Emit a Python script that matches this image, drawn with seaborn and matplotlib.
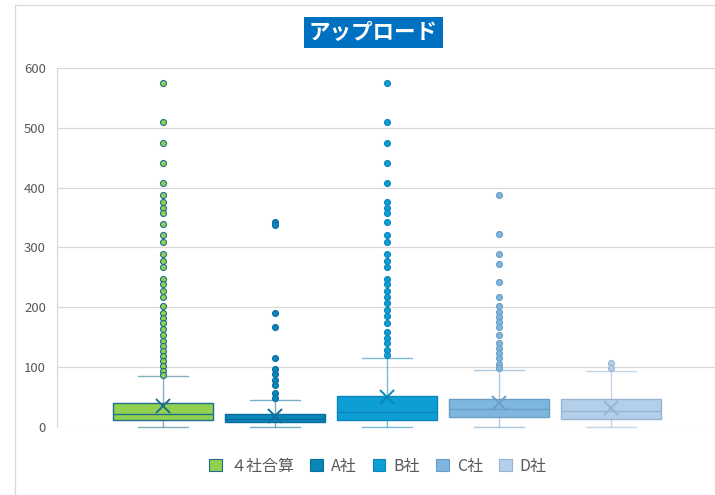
import matplotlib
matplotlib.use("Agg")
import matplotlib.pyplot as plt
from matplotlib.patches import Patch
from matplotlib.lines import Line2D
import seaborn as sns
import pandas as pd

sns.set_theme(style="white")
plt.rcParams['font.family'] = ['Noto Sans CJK JP', 'DejaVu Sans']

# ---------------- data ----------------
series = ["４社合算", "A社", "B社", "C社", "D社"]
whisker_low = [0, 0, 0, 0, 0]
q1 = [11, 8, 12, 16, 13]
median = [21, 14, 25, 29.5, 26]
q3 = [39.5, 22.5, 52.5, 47.5, 46]
whisker_high = [85, 45, 115, 95, 94]
means = [34.5, 18, 49.5, 39.5, 31]

out_total = [575, 509, 475, 441, 407, 388, 376, 366, 357, 340, 321, 309, 289, 278,
             268, 247, 239, 228, 217, 203, 191, 183, 173, 164, 153, 143, 135, 127,
             118, 110, 102, 93, 87]
out_a = [342, 338, 191, 167, 115, 97, 88, 79, 71, 56, 48]
out_b = [575, 509, 475, 441, 407, 376, 366, 357, 342, 321, 309, 289, 278, 268,
         247, 239, 228, 218, 208, 196, 185, 174, 158, 149, 141, 129, 120]
out_c = [388, 323, 289, 272, 242, 218, 203, 192, 184, 176, 167, 153, 141, 132,
         124, 116, 106, 98]
out_d = [107, 98]
outliers = [out_total, out_a, out_b, out_c, out_d]

fill_colors = ["#92D050", "#0B86BA", "#0E9ED6", "#7FB6DF", "#B3CFEA"]
edge_colors = ["#1F6E8C", "#0A6E9C", "#0A86BB", "#6A9EC5", "#97B5D2"]

# ---------------- figure ----------------
fig = plt.figure(figsize=(7.15, 4.95), dpi=100)
ax = fig.add_axes([57 / 715, 1 - 427 / 495, 1 - 57 / 715, (427 - 68) / 495])

for i, name in enumerate(series):
    box_df = pd.DataFrame({
        "社": [name] * 5,
        "値": [whisker_low[i], q1[i], median[i], q3[i], whisker_high[i]],
    })
    sns.boxplot(data=box_df, x="社", y="値", order=series, color=fill_colors[i],
                linecolor=edge_colors[i], saturation=1, width=0.9, whis=(0, 100),
                showfliers=False, linewidth=1.0, ax=ax)
    cont = ax.containers[-1]
    for ln in list(cont.whiskers) + list(cont.caps):
        ln.set_alpha(0.55)
        ln.set_clip_on(False)

    out_df = pd.DataFrame({"社": [name] * len(outliers[i]), "値": outliers[i]})
    sns.stripplot(data=out_df, x="社", y="値", order=series, jitter=False,
                  color=fill_colors[i], edgecolor=edge_colors[i], linewidth=0.8,
                  size=4.3, ax=ax, zorder=4)

    mean_df = pd.DataFrame({"社": [name], "値": [means[i]]})
    sns.pointplot(data=mean_df, x="社", y="値", order=series, color=edge_colors[i],
                  marker="x", linestyle="none", errorbar=None, markersize=10,
                  markeredgewidth=1.4, ax=ax)

ax.set_xlim(-(163 - 57) / 112, 4 + (715 - 611) / 112)
ax.set_ylim(0, 600)
ax.set_yticks(range(0, 601, 100))
ax.set_xticks([])
ax.set_xlabel("")
ax.set_ylabel("")
ax.tick_params(axis="y", length=0, labelsize=9.5, labelcolor="#595959", pad=8)
ax.yaxis.grid(True, color="#D9D9D9", linewidth=0.9)
ax.set_axisbelow(True)
for s in ["top", "right", "bottom"]:
    ax.spines[s].set_visible(False)
ax.spines["left"].set_color("#D9D9D9")
ax.spines["left"].set_linewidth(0.9)

# frame lines of the chart area
fig.add_artist(Line2D([15 / 715, 15 / 715], [0, 1 - 5 / 495], color="#D9D9D9", lw=0.9))
fig.add_artist(Line2D([15 / 715, 1], [1 - 5 / 495, 1 - 5 / 495], color="#D9D9D9", lw=0.9))

# title
fig.text(373.5 / 715, 1 - 32.5 / 495, "アップロード", ha="center", va="center",
         fontsize=15.5, fontweight="bold", color="white",
         bbox=dict(boxstyle="square,pad=0.25", facecolor="#0070C0", edgecolor="none"))

# legend
handles = [Patch(facecolor=fill_colors[i], edgecolor=edge_colors[i], linewidth=0.8)
           for i in range(len(series))]
fig.legend(handles, series, loc="center", bbox_to_anchor=(378 / 715, 1 - 466 / 495),
           ncol=5, frameon=False, fontsize=11.5, labelcolor="#595959",
           handlelength=0.8, handleheight=0.8, handletextpad=0.5, columnspacing=1.0)

fig.savefig("out.png", dpi=100)
